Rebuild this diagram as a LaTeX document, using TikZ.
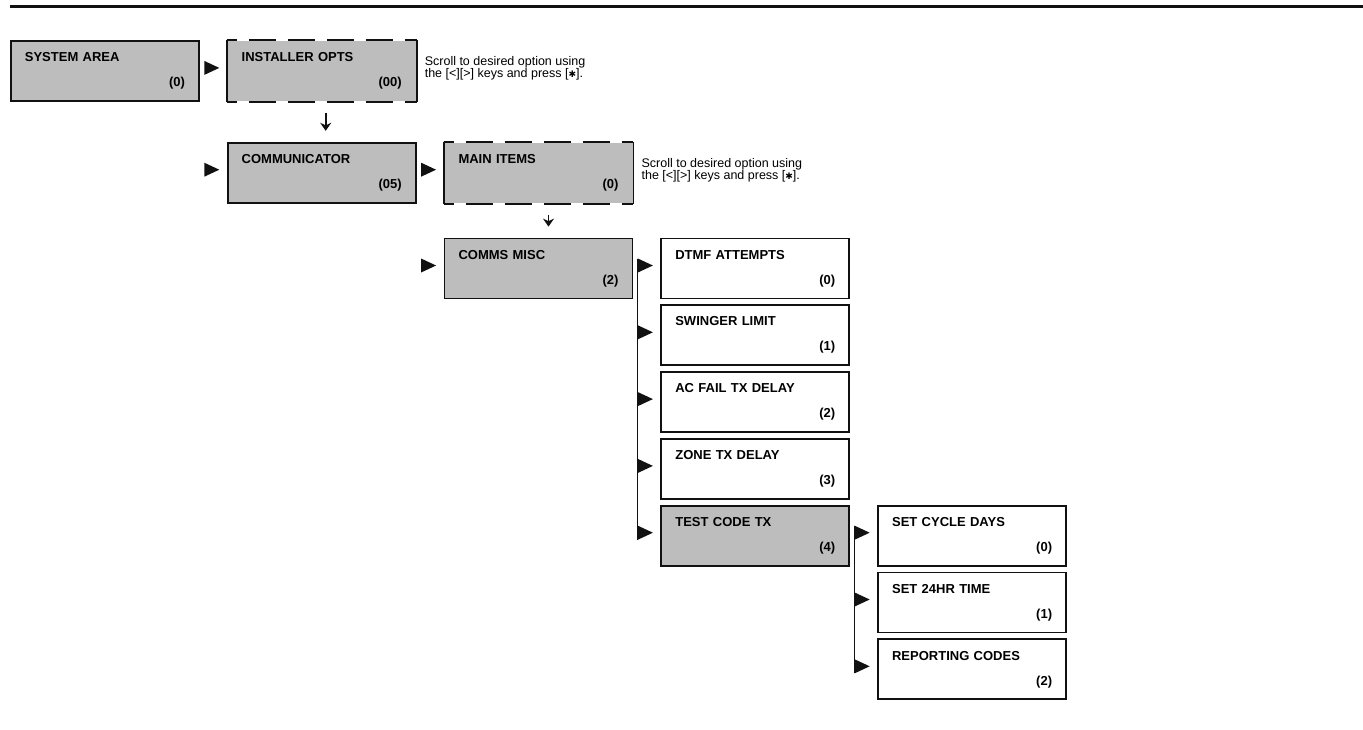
\documentclass[tikz,border=0pt]{standalone}
\usepackage{fontspec}
\setmainfont{Liberation Sans}
\newfontfamily\dingfont{DejaVu Sans}
\usepackage{xcolor}
\usetikzlibrary{calc,positioning,shapes.geometric,arrows.meta}
\definecolor{ink}{HTML}{111111}
\definecolor{boxgray}{HTML}{BDBDBD}

\begin{document}
\begin{tikzpicture}[
    x=1pt, y=1pt,
    menu/.style={draw=ink, line width=1.8pt, minimum width=188pt, minimum height=60pt,
      text width=160pt, inner xsep=14pt, align=left,
      font=\bfseries\fontsize{13}{15}\selectfont},
    menushade/.style={menu, fill=boxgray},
    menuopen/.style={menushade, draw=none},
    edge/.style={draw=ink, line width=1.8pt},
    ptr/.style={isosceles triangle, isosceles triangle stretches, minimum width=14pt,
      minimum height=15pt, inner sep=0pt, fill=ink, yshift=3pt},
    bus/.style={draw=ink, line width=1.5pt},
    downarrow/.style={draw=ink, line width=1.8pt, -{Stealth[length=8pt,width=11pt]},
      shorten <=11pt, shorten >=11pt},
    note/.style={anchor=north west, inner sep=0pt, align=left,
      font=\fontsize{12.5}{12.5}\selectfont}
  ]
  \useasboundingbox (-10,40) rectangle (1353,-689);
  \draw[ink, line width=3pt] (0,34) -- (1353,34);

  % menu levels
  \node[menushade, anchor=north west] (sys) at (0,0) {SYSTEM AREA\\[10pt]\hfill(0)};
  \node[menuopen, right=27pt of sys] (inst) {INSTALLER OPTS\\[10pt]\hfill(00)};
  \node[menushade, below=40pt of inst] (comm) {COMMUNICATOR\\[10pt]\hfill(05)};
  \node[menuopen, right=27pt of comm] (main) {MAIN ITEMS\\[10pt]\hfill(0)};
  \node[menushade, below=34pt of main] (misc) {COMMS MISC\\[10pt]\hfill(2)};

  \node[menu, right=27pt of misc] (dtmf) {DTMF ATTEMPTS\\[10pt]\hfill(0)};
  \node[menu, below=5pt of dtmf] (swing) {SWINGER LIMIT\\[10pt]\hfill(1)};
  \node[menu, below=5pt of swing] (acfail) {AC FAIL TX DELAY\\[10pt]\hfill(2)};
  \node[menu, below=5pt of acfail] (zone) {ZONE TX DELAY\\[10pt]\hfill(3)};
  \node[menushade, below=5pt of zone] (test) {TEST CODE TX\\[10pt]\hfill(4)};

  \node[menu, right=27pt of test] (cycle) {SET CYCLE DAYS\\[10pt]\hfill(0)};
  \node[menu, below=5pt of cycle] (time) {SET 24HR TIME\\[10pt]\hfill(1)};
  \node[menu, below=5pt of time] (repcodes) {REPORTING CODES\\[10pt]\hfill(2)};

  % scrolling menus: dashed top and bottom
  \foreach \n in {inst,main} {
    \draw[edge] (\n.north west) -- (\n.south west);
    \draw[edge] (\n.north east) -- (\n.south east);
    \draw[edge, dash pattern=on 27pt off 12pt, dash phase=17pt] (\n.north west) -- (\n.north east);
    \draw[edge, dash pattern=on 27pt off 12pt, dash phase=17pt] (\n.south west) -- (\n.south east);
  }

  \node[note] (inst-note) at ([xshift=8pt,yshift=-16pt]inst.north east)
    {Scroll to desired option using\\the [<][>] keys and press [{\dingfont\small ✱}].};
  \node[note] (main-note) at ([xshift=8pt,yshift=-16pt]main.north east)
    {Scroll to desired option using\\the [<][>] keys and press [{\dingfont\small ✱}].};

  % pointers
  \foreach \n in {inst,comm,main,misc,dtmf,swing,acfail,zone,test,cycle,time,repcodes}
    \node[ptr, left=7pt of \n] (p-\n) {};

  \draw[bus] ($(p-dtmf.west)+(0,7)$) -- ($(p-test.west)+(0,-7)$);
  \draw[bus] ($(p-cycle.west)+(0,7)$) -- ($(p-repcodes.west)+(0,-7)$);

  \draw[downarrow] ([xshift=4pt]inst.south) -- ([xshift=4pt]comm.north);
  \draw[downarrow] ([xshift=10pt]main.south) -- ([xshift=10pt]misc.north);
\end{tikzpicture}
\end{document}
